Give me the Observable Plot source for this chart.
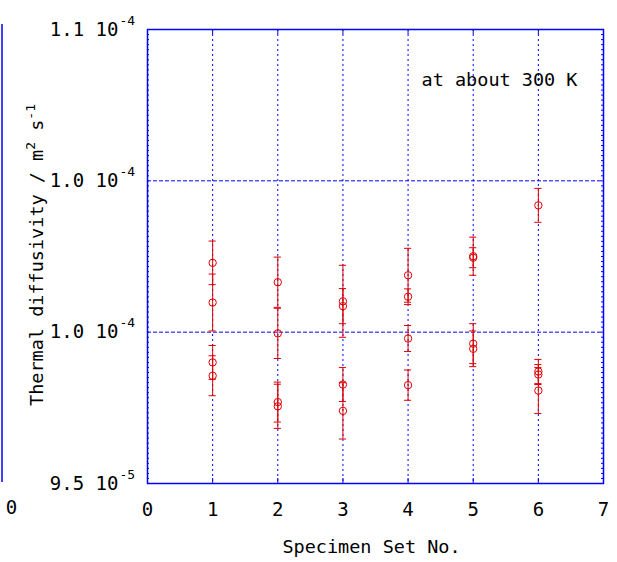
<!DOCTYPE html>
<html><head><meta charset="utf-8">
<script src="https://cdn.jsdelivr.net/npm/d3@7"></script>
<script src="https://cdn.jsdelivr.net/npm/@observablehq/plot@0.6"></script>
<style>
body{margin:0;background:#fff;}
#chart{position:relative;width:617px;height:562px;}
</style></head><body><div id="chart"></div>
<script>
// ---- data ----
const specimenSet = [1,1,1,1, 2,2,2,2, 3,3,3,3, 4,4,4,4, 5,5,5,5, 6,6,6,6];
const diffusivity = [
  1.0229e-4, 1.0098e-4, 0.9900e-4, 0.9856e-4,
  1.0165e-4, 0.9996e-4, 0.9769e-4, 0.9755e-4,
  1.0102e-4, 1.0086e-4, 0.9827e-4, 0.9740e-4,
  1.0188e-4, 1.0117e-4, 0.9979e-4, 0.9825e-4,
  1.0251e-4, 1.0246e-4, 0.9962e-4, 0.9945e-4,
  1.0419e-4, 0.9870e-4, 0.9860e-4, 0.9807e-4
];
const uncertainty = [
  0.72e-6, 0.94e-6, 0.56e-6, 0.66e-6,
  0.83e-6, 0.83e-6, 0.66e-6, 0.73e-6,
  1.19e-6, 0.58e-6, 0.56e-6, 0.93e-6,
  0.89e-6, 0.26e-6, 0.43e-6, 0.50e-6,
  0.63e-6, 0.33e-6, 0.66e-6, 0.59e-6,
  0.56e-6, 0.40e-6, 0.33e-6, 0.76e-6
];
const xTicks = [0,1,2,3,4,5,6,7];
const xGrid = [1,2,3,4,5,6];
const yTickValues = [9.5e-5, 1.0e-4, 1.05e-4, 1.1e-4];
const yTickMantissa = ["9.5","1.0","1.0","1.1"];
const yTickExponent = ["-5","-4","-4","-4"];
const yGrid = [1.0e-4, 1.05e-4];
const xDomain = [0, 7];
const yDomain = [9.5e-5, 1.1e-4];
const xLabel = "Specimen Set No.";
const yLabelMain = "Thermal diffusivity / m";
const yLabelSup1 = "2";
const yLabelMid = " s";
const yLabelSup2 = "-1";
const note = "at about 300 K";

// ---- derived tables ----
const points = specimenSet.map((s,i)=>({set:s, v:diffusivity[i], e:uncertainty[i]}));
const caps = points.flatMap(d=>[{set:d.set, y:d.v-d.e},{set:d.set, y:d.v+d.e}]);
const minorY = d3.range(0, 91).map(i => yDomain[0] + i*(yDomain[1]-yDomain[0])/90);
const yTicks = yTickValues.map((v,i)=>({v, m:yTickMantissa[i]+" 10", p:yTickExponent[i]}));

const blue = "#0000ff", red = "#e00000";
const font = "DejaVu Sans Mono";
const capHalf = 0.055;

const plot = Plot.plot({
  width:617, height:562,
  marginLeft:147, marginRight:14, marginTop:29, marginBottom:79,
  x:{domain:xDomain, axis:null},
  y:{domain:yDomain, axis:null},
  style:{fontFamily:font, fontSize:"18.5px", color:"black", background:"white", overflow:"visible"},
  marks:[
    Plot.ruleX(xGrid, {stroke:blue, strokeDasharray:"2,3", strokeWidth:1}),
    Plot.ruleY(yGrid, {stroke:blue, strokeDasharray:"4,2", strokeWidth:1}),
    Plot.ruleY(minorY, {stroke:blue, insetRight:454}),
    Plot.ruleY(minorY, {stroke:blue, insetLeft:454}),
    Plot.ruleX(xTicks, {stroke:blue, insetTop:449}),
    Plot.ruleX(xTicks, {stroke:blue, insetBottom:449}),
    Plot.frame({stroke:blue, strokeWidth:1.5}),
    Plot.ruleX(points, {x:"set", y1:d=>d.v-d.e, y2:d=>d.v+d.e, stroke:red, strokeWidth:1}),
    Plot.ruleY(caps, {y:"y", x1:d=>d.set-capHalf, x2:d=>d.set+capHalf, stroke:red, strokeWidth:1}),
    Plot.dot(points, {x:"set", y:"v", r:3.7, stroke:red, fill:"none", strokeWidth:1}),
    Plot.text(xTicks, {x:d=>d, text:d=>String(d), frameAnchor:"bottom", dy:32, fontSize:19}),
    Plot.text(yTicks, {y:"v", text:"m", frameAnchor:"left", textAnchor:"end", dx:-29, fontSize:19}),
    Plot.text(yTicks, {y:"v", text:"p", frameAnchor:"left", textAnchor:"start", dx:-28, dy:-9, fontSize:13}),
    Plot.text([xLabel], {text:d=>d, frameAnchor:"bottom", dx:-4, dy:69}),
    Plot.text([note], {text:d=>d, frameAnchor:"top-right", textAnchor:"end", dx:-26, dy:43}),
    // remnant of neighbouring panel visible at left edge
    Plot.ruleX([xDomain[0]], {stroke:blue, strokeWidth:1.5, dx:-145.5, insetTop:-5, insetBottom:1}),
    Plot.text(["0"], {text:d=>d, frameAnchor:"bottom-left", textAnchor:"middle", dx:-136, dy:30, fontSize:19})
  ]
});

// y-axis label with superscripts
const svg = d3.select(plot);
const t = svg.append("text")
  .attr("transform","translate(43,255) rotate(-90)")
  .attr("text-anchor","middle")
  .attr("font-family",font)
  .attr("font-size","18.5px")
  .attr("fill","black");
t.append("tspan").text(yLabelMain);
t.append("tspan").attr("dy",-8).attr("font-size","13px").text(yLabelSup1);
t.append("tspan").attr("dy",8).text(yLabelMid);
t.append("tspan").attr("dy",-8).attr("font-size","13px").text(yLabelSup2);

document.getElementById("chart").append(plot);
</script></body></html>
